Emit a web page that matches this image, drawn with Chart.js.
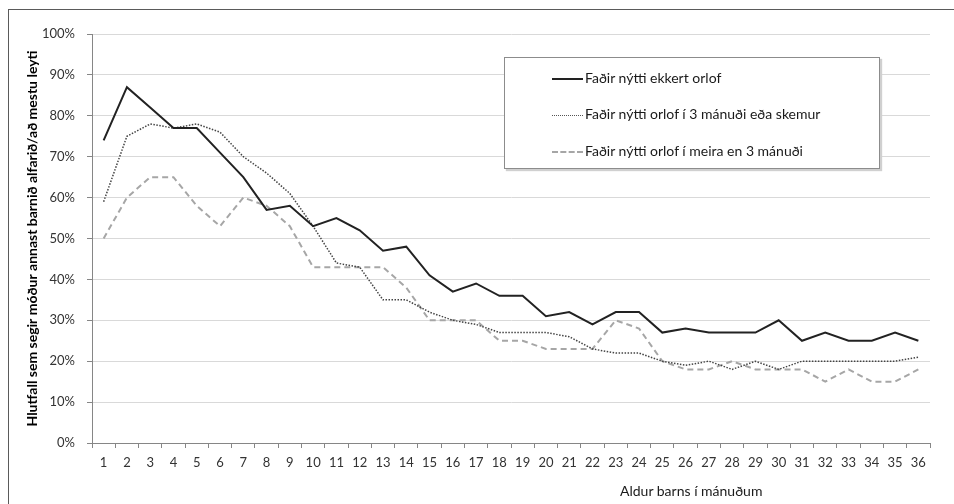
<!DOCTYPE html>
<html>

<head>
    <title>Hlutfall sem segir móður annast barnið</title>
    <script src="https://cdn.jsdelivr.net/npm/chart.js"></script>
    <style>
        body {
            margin: 0;
            background: #fff;
            font-family: Lato, sans-serif;
        }

        .wrap {
            position: relative;
            width: 954px;
            height: 504px;
            overflow: hidden;
        }

        /* the outer frame, only top and left edges show */
        .frame {
            position: absolute;
            left: 8px;
            top: 9px;
            width: 960px;
            height: 510px;
            border-left: 1.5px solid #5a5a5a;
            border-top: 1.5px solid #5a5a5a;
        }

        #chart {
            position: absolute;
            left: 0;
            top: 0;
        }

        .legend {
            position: absolute;
            left: 504px;
            top: 57px;
            width: 374px;
            height: 110px;
            border: 1px solid #8c8c8c;
            background: #fff;
            box-shadow: 2px 2px 1px #d0d0d0;
        }

        .legend .item {
            position: absolute;
            left: 47px;
            height: 18px;
            font-size: 14px;
            color: #1a1a1a;
            white-space: nowrap;
            line-height: 18px;
        }

        .legend .sample {
            display: inline-block;
            width: 31px;
            vertical-align: middle;
            margin-right: 2px;
        }

        .xtitle {
            position: absolute;
            left: 620px;
            top: 482px;
            font-size: 14px;
            color: #1a1a1a;
            white-space: nowrap;
        }
    </style>
</head>

<body>
    <div class="wrap">
        <div class="frame"></div>
        <canvas id="chart" width="954" height="504"></canvas>

        <div class="legend">
            <div class="item" style="top:11px"><span class="sample" style="border-top:2px solid #222"></span>Faðir nýtti ekkert orlof</div>
            <div class="item" style="top:47px"><span class="sample" style="border-top:1.5px dotted #555"></span>Faðir nýtti orlof í 3 mánuði eða skemur</div>
            <div class="item" style="top:84px"><span class="sample" style="border-top:2px dashed #a6a6a6"></span>Faðir nýtti orlof í meira en 3 mánuði</div>
        </div>

        <div class="xtitle">Aldur barns í mánuðum</div>
    </div>

    <script>
        // months 1..36
        const months = ['1', '2', '3', '4', '5', '6', '7', '8', '9', '10', '11', '12',
            '13', '14', '15', '16', '17', '18', '19', '20', '21', '22', '23', '24',
            '25', '26', '27', '28', '29', '30', '31', '32', '33', '34', '35', '36'];

        // values in %
        const ekkertOrlof = [74, 87, 82, 77, 77, 71, 65, 57, 58, 53, 55, 52,
            47, 48, 41, 37, 39, 36, 36, 31, 32, 29, 32, 32,
            27, 28, 27, 27, 27, 30, 25, 27, 25, 25, 27, 25];

        const orlofSkemur = [59, 75, 78, 77, 78, 76, 70, 66, 61, 53, 44, 43,
            35, 35, 32, 30, 29, 27, 27, 27, 26, 23, 22, 22,
            20, 19, 20, 18, 20, 18, 20, 20, 20, 20, 20, 21];

        const orlofMeira = [50, 60, 65, 65, 58, 53, 60, 58, 53, 43, 43, 43,
            43, 38, 30, 30, 30, 25, 25, 23, 23, 23, 30, 28,
            20, 18, 18, 20, 18, 18, 18, 15, 18, 15, 15, 18];

        const seriesNames = ['Faðir nýtti ekkert orlof', 'Faðir nýtti orlof í 3 mánuði eða skemur', 'Faðir nýtti orlof í meira en 3 mánuði'];

        const yTitle = 'Hlutfall sem segir móður annast barnið alfarið/að mestu leyti';

        const ctx = document.getElementById('chart').getContext('2d');

        new Chart(ctx, {
            type: 'line',
            data: {
                labels: months,
                datasets: [{
                    label: seriesNames[0],
                    data: ekkertOrlof,
                    borderColor: '#222222',
                    borderWidth: 2,
                    pointRadius: 0,
                    tension: 0,
                    fill: false
                }, {
                    label: seriesNames[1],
                    data: orlofSkemur,
                    borderColor: '#444444',
                    borderWidth: 1.5,
                    borderDash: [1.5, 1.5],
                    pointRadius: 0,
                    tension: 0,
                    fill: false
                }, {
                    label: seriesNames[2],
                    data: orlofMeira,
                    borderColor: '#a6a6a6',
                    borderWidth: 2,
                    borderDash: [6, 4],
                    pointRadius: 0,
                    tension: 0,
                    fill: false
                }]
            },
            options: {
                responsive: false,
                animation: false,
                layout: {
                    padding: { left: 19, right: 24, top: 34, bottom: 0 }
                },
                plugins: {
                    legend: { display: false },
                    tooltip: { enabled: false }
                },
                scales: {
                    x: {
                        offset: true,
                        grid: {
                            offset: true,
                            drawOnChartArea: false,
                            drawTicks: true,
                            tickLength: 5,
                            color: '#868686'
                        },
                        border: { color: '#868686', width: 1 },
                        ticks: {
                            color: '#333',
                            font: { family: 'Lato', size: 13 },
                            padding: 7,
                            maxRotation: 0,
                            autoSkip: false
                        },
                        afterFit: s => { s.height = 61; }
                    },
                    y: {
                        min: 0,
                        max: 100,
                        ticks: {
                            stepSize: 10,
                            color: '#333',
                            font: { family: 'Lato', size: 13 },
                            padding: 12,
                            callback: v => v + '%'
                        },
                        grid: {
                            color: '#d9d9d9',
                            tickColor: '#868686',
                            tickLength: 5
                        },
                        border: { color: '#868686', width: 1 },
                        title: {
                            display: true,
                            text: yTitle,
                            color: '#000',
                            font: { family: 'Lato', size: 14, weight: 'bold' },
                            padding: { top: 5, bottom: 0 }
                        },
                        afterFit: s => { s.width = 73; }
                    }
                }
            }
        });
    </script>
</body>

</html>
